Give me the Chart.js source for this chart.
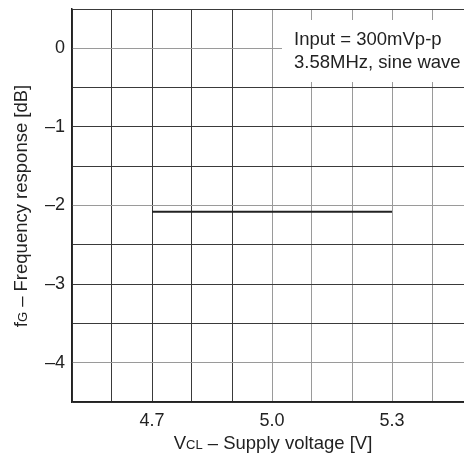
<!DOCTYPE html>
<html>
<head>
<meta charset="utf-8">
<script src="https://cdn.jsdelivr.net/npm/chart.js@4/dist/chart.umd.min.js"></script>
<style>
  html, body { margin: 0; padding: 0; background: #fff; overflow: hidden; }
  #wrap { width: 512px; height: 455px; }
</style>
</head>
<body>
<div id="wrap"><canvas id="chart" width="512" height="455"></canvas></div>
<script>
// supply voltage [V] and frequency response [dB]
var voltage = [4.7, 5.3];
var response = [-2.08, -2.08];

var xLabelTicks = [4.7, 5.0, 5.3];
var yLabelTicks = [0, -1, -2, -3, -4];
var noteLines = ["Input = 300mVp-p", "3.58MHz, sine wave"];

var FONT = "'Liberation Sans', Arial, sans-serif";

// draw text made of runs with different sizes (for the subscripts)
function runsWidth(ctx, runs) {
    var w = 0;
    runs.forEach(function (r) {
        ctx.font = r[1] + "px " + FONT;
        w += ctx.measureText(r[0]).width;
    });
    return w;
}
function drawRuns(ctx, runs, cx, baseline) {
    var x = cx - runsWidth(ctx, runs) / 2;
    ctx.textAlign = "left";
    ctx.textBaseline = "alphabetic";
    runs.forEach(function (r) {
        ctx.font = r[1] + "px " + FONT;
        ctx.fillText(r[0], x, baseline);
        x += ctx.measureText(r[0]).width;
    });
}

var extras = {
    id: "extras",
    afterDraw: function (chart) {
        var ctx = chart.ctx;
        var a = chart.chartArea;
        ctx.save();
        ctx.fillStyle = "#222";

        // x title
        drawRuns(ctx, [["V", 18.5], ["CL", 13], [" \u2013 Supply voltage [V]", 18.5]], 273, 449);

        // y title (rotated)
        ctx.translate(27, 206);
        ctx.rotate(-Math.PI / 2);
        drawRuns(ctx, [["f", 18.5], ["G", 13], [" \u2013 Frequency response [dB]", 18.5]], 0, 0);
        ctx.restore();

        // note box
        ctx.save();
        ctx.fillStyle = "#fff";
        ctx.fillRect(a.left + 210, a.top + 11, 300, 62);
        ctx.fillStyle = "#222";
        ctx.font = "18.5px " + FONT;
        ctx.textAlign = "left";
        ctx.textBaseline = "middle";
        noteLines.forEach(function (t, i) {
            ctx.fillText(t, a.left + 222, a.top + 31 + i * 23);
        });
        ctx.restore();
    }
};

new Chart(document.getElementById("chart").getContext("2d"), {
    type: "scatter",
    data: {
        datasets: [{
            data: voltage.map(function (v, i) { return { x: v, y: response[i] }; }),
            showLine: true,
            borderColor: "#222",
            borderWidth: 2,
            pointRadius: 0
        }]
    },
    options: {
        responsive: false,
        animation: false,
        layout: { padding: { top: 9, left: 0, right: 0, bottom: 0 } },
        plugins: { legend: { display: false }, tooltip: { enabled: false } },
        scales: {
            x: {
                type: "linear",
                min: 4.5,
                max: 5.6,
                afterFit: function (s) {
                    s.height = 53;
                    s.paddingLeft = 0;
                    s.paddingRight = 0;
                },
                afterBuildTicks: function (s) {
                    var t = [];
                    for (var i = 45; i <= 56; i++) t.push({ value: i / 10 });
                    s.ticks = t;
                },
                grid: {
                    drawTicks: false,
                    lineWidth: 1,
                    color: function (c) {
                        return c.tick && c.tick.value >= 4.95 ? "#9a9a9a" : "#3a3a3a";
                    }
                },
                border: { display: true, color: "#222", width: 1.5 },
                ticks: {
                    padding: 8,
                    color: "#222",
                    font: { family: FONT, size: 18 },
                    maxRotation: 0,
                    autoSkip: false,
                    callback: function (v) {
                        var n = Math.round(v * 10);
                        for (var i = 0; i < xLabelTicks.length; i++) {
                            if (Math.round(xLabelTicks[i] * 10) === n) return xLabelTicks[i].toFixed(1);
                        }
                        return "";
                    }
                }
            },
            y: {
                min: -4.5,
                max: 0.5,
                afterFit: function (s) {
                    s.width = 72;
                    s.paddingTop = 0;
                    s.paddingBottom = 0;
                },
                afterBuildTicks: function (s) {
                    var t = [];
                    for (var i = -9; i <= 1; i++) t.push({ value: i / 2 });
                    s.ticks = t;
                },
                grid: {
                    drawTicks: false,
                    lineWidth: 1,
                    color: function (c) {
                        var v = c.tick ? c.tick.value : 1;
                        return (v === 0 || v === -2 || v === -4) ? "#9a9a9a" : "#3a3a3a";
                    }
                },
                border: { display: true, color: "#222", width: 1.5 },
                ticks: {
                    padding: 7,
                    color: "#222",
                    font: { family: FONT, size: 18 },
                    autoSkip: false,
                    callback: function (v) {
                        if (yLabelTicks.indexOf(v) < 0) return "";
                        return v === 0 ? "0" : "\u2013" + Math.abs(v);
                    }
                }
            }
        }
    },
    plugins: [extras]
});
</script>
</body>
</html>
